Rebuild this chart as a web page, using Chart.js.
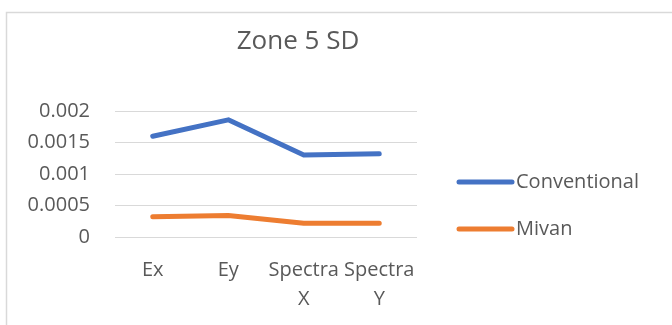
<!DOCTYPE html>
<html>
<head>
<meta charset="utf-8">
<style>
  html, body { margin: 0; padding: 0; background: #fff; }
  #wrap { width: 672px; height: 325px; position: relative; }
</style>
<script src="https://cdn.jsdelivr.net/npm/chart.js@4/dist/chart.umd.min.js"></script>
</head>
<body>
<div id="wrap"><canvas id="c" width="672" height="325"></canvas></div>
<script>
const chartTitle = 'Zone 5 SD';
const categories = [['Ex'], ['Ey'], ['Spectra', 'X'], ['Spectra', 'Y']];
const conventional = [0.0016, 0.00186, 0.0013, 0.00132];
const mivan = [0.00032, 0.00034, 0.00022, 0.00022];
const yTickLabels = ['0', '0.0005', '0.001', '0.0015', '0.002'];

const FONT = '"Open Sans", "Liberation Sans", sans-serif';
const TEXT = '#595959';

// Outer frame, title and the right-hand legend
const framePlugin = {
  id: 'frame',
  beforeDraw(chart) {
    const ctx = chart.ctx;
    ctx.save();
    ctx.fillStyle = '#fff';
    ctx.fillRect(0, 0, chart.width, chart.height);
    ctx.strokeStyle = '#d9d9d9';
    ctx.lineWidth = 1.5;
    ctx.beginPath();
    ctx.moveTo(6.5, chart.height + 2);
    ctx.lineTo(6.5, 12.5);
    ctx.lineTo(chart.width + 2, 12.5);
    ctx.stroke();
    ctx.restore();
  },
  afterDraw(chart) {
    const ctx = chart.ctx;
    ctx.save();
    ctx.fillStyle = TEXT;
    ctx.font = '26px ' + FONT;
    ctx.textAlign = 'center';
    ctx.textBaseline = 'middle';
    ctx.fillText(chartTitle, 298, 42);

    const rows = [182, 229];
    chart.data.datasets.forEach((ds, i) => {
      const y = rows[i];
      ctx.strokeStyle = ds.borderColor;
      ctx.lineWidth = 5;
      ctx.lineCap = 'round';
      ctx.beginPath();
      ctx.moveTo(459, y);
      ctx.lineTo(512, y);
      ctx.stroke();
      ctx.fillStyle = TEXT;
      ctx.font = '20px ' + FONT;
      ctx.textAlign = 'left';
      ctx.fillText(ds.label, 516, y);
    });
    ctx.restore();
  }
};

new Chart(document.getElementById('c'), {
  type: 'line',
  data: {
    labels: categories,
    datasets: [
      {
        label: 'Conventional',
        data: conventional,
        borderColor: '#4472C4',
        backgroundColor: '#4472C4',
        borderWidth: 5,
        pointRadius: 0,
        tension: 0,
        borderCapStyle: 'round',
        borderJoinStyle: 'round'
      },
      {
        label: 'Mivan',
        data: mivan,
        borderColor: '#ED7D31',
        backgroundColor: '#ED7D31',
        borderWidth: 5,
        pointRadius: 0,
        tension: 0,
        borderCapStyle: 'round',
        borderJoinStyle: 'round'
      }
    ]
  },
  options: {
    responsive: false,
    animation: false,
    layout: { padding: { left: 0, top: 111, right: 255, bottom: 0 } },
    plugins: {
      legend: { display: false },
      title: { display: false },
      tooltip: { enabled: false }
    },
    scales: {
      x: {
        offset: true,
        grid: { display: false },
        border: { display: false },
        ticks: {
          autoSkip: false,
          maxRotation: 0,
          minRotation: 0,
          padding: 11,
          color: TEXT,
          font: { family: FONT, size: 20, lineHeight: 1.45 }
        },
        afterFit(scale) { scale.height = 325 - 237; }
      },
      y: {
        min: 0,
        max: 0.002,
        grid: { color: '#d9d9d9', lineWidth: 1, drawTicks: false },
        border: { display: false },
        ticks: {
          stepSize: 0.0005,
          padding: 25,
          color: TEXT,
          font: { family: FONT, size: 20 },
          callback: (v, i) => yTickLabels[i]
        },
        afterFit(scale) { scale.width = 115; }
      }
    }
  },
  plugins: [framePlugin]
});
</script>
</body>
</html>
